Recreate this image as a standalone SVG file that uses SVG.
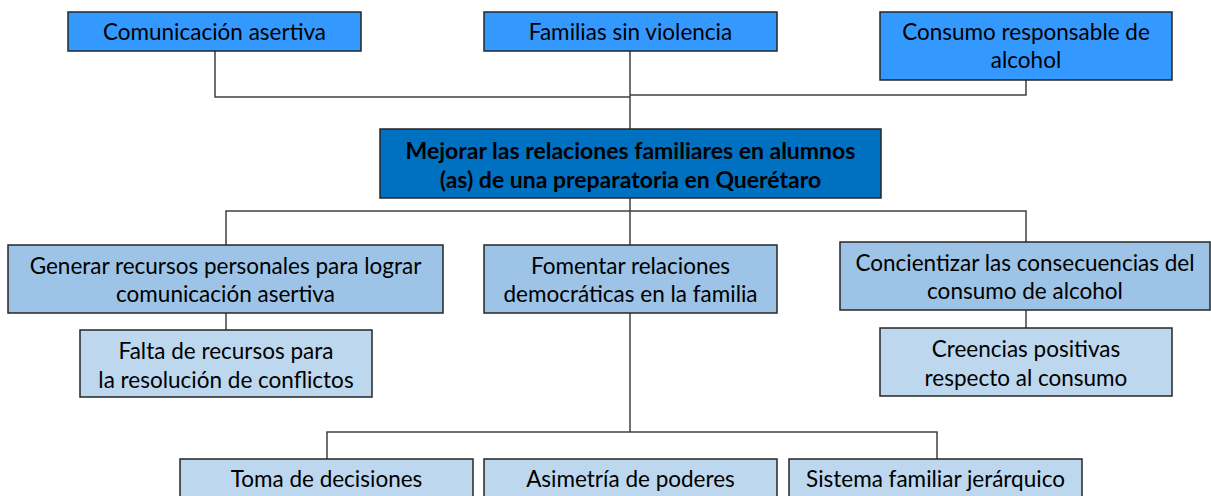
<svg xmlns="http://www.w3.org/2000/svg" width="1211" height="496" viewBox="0 0 1211 496">
<style>
.box{stroke:#262626;stroke-width:1.5}
.l1{fill:#3399FF}
.c{fill:#0070C0}
.l2{fill:#9DC3E6}
.l3{fill:#BDD7EE}
text{font-family:Lato,"Open Sans","Liberation Sans",sans-serif;font-size:22.5px;fill:#000;text-anchor:middle}
.b{font-weight:bold;font-size:23px}
.con{stroke:#404040;stroke-width:1.5;fill:none}
</style>
<rect width="1211" height="496" fill="#fff"/>
<g id="connectors">
<polyline class="con" points="215,51 215,97 630,97"/>
<line class="con" x1="630" y1="51" x2="630" y2="129"/>
<polyline class="con" points="1026,80 1026,95 630,95"/>
<line class="con" x1="630" y1="198" x2="630" y2="245"/>
<polyline class="con" points="226,245 226,211 1026,211 1026,242"/>
<line class="con" x1="226" y1="313" x2="226" y2="330"/>
<line class="con" x1="1026" y1="310" x2="1026" y2="328"/>
<line class="con" x1="630" y1="313" x2="630" y2="432"/>
<polyline class="con" points="327,459 327,432 937,432 937,459"/>
</g>
<g id="n-comunicacion"><rect class="box l1" x="68" y="12" width="293" height="39"/><text x="214.5" y="40">Comunicación asertiva</text></g>
<g id="n-familias"><rect class="box l1" x="484" y="12" width="293" height="39"/><text x="630.5" y="40">Familias sin violencia</text></g>
<g id="n-consumo"><rect class="box l1" x="880" y="12" width="292" height="68"/><text x="1026" y="40">Consumo responsable de</text><text x="1026" y="68">alcohol</text></g>
<g id="n-central"><rect class="box c" x="380" y="129" width="501" height="69"/><text class="b" x="630.5" y="159">Mejorar las relaciones familiares en alumnos</text><text class="b" x="630.5" y="188">(as) de una preparatoria en Querétaro</text></g>
<g id="n-generar"><rect class="box l2" x="8" y="245" width="435" height="68"/><text x="225.5" y="274">Generar recursos personales para lograr</text><text x="225.5" y="302">comunicación asertiva</text></g>
<g id="n-fomentar"><rect class="box l2" x="484" y="245" width="293" height="68"/><text x="630.5" y="274">Fomentar relaciones</text><text x="630.5" y="302">democráticas en la familia</text></g>
<g id="n-concientizar"><rect class="box l2" x="840" y="242" width="370" height="68"/><text x="1025" y="271">Concientizar las consecuencias del</text><text x="1025" y="299">consumo de alcohol</text></g>
<g id="n-falta"><rect class="box l3" x="80" y="330" width="292" height="67"/><text x="226" y="359">Falta de recursos para</text><text x="226" y="388">la resolución de conflictos</text></g>
<g id="n-creencias"><rect class="box l3" x="880" y="328" width="292" height="68"/><text x="1026" y="357">Creencias positivas</text><text x="1026" y="386">respecto al consumo</text></g>
<g id="n-toma"><rect class="box l3" x="180" y="459" width="293" height="45"/><text x="326.5" y="487">Toma de decisiones</text></g>
<g id="n-asimetria"><rect class="box l3" x="484" y="459" width="293" height="45"/><text x="630.5" y="487">Asimetría de poderes</text></g>
<g id="n-sistema"><rect class="box l3" x="789" y="459" width="293" height="45"/><text x="935.5" y="487">Sistema familiar jerárquico</text></g>
</svg>
